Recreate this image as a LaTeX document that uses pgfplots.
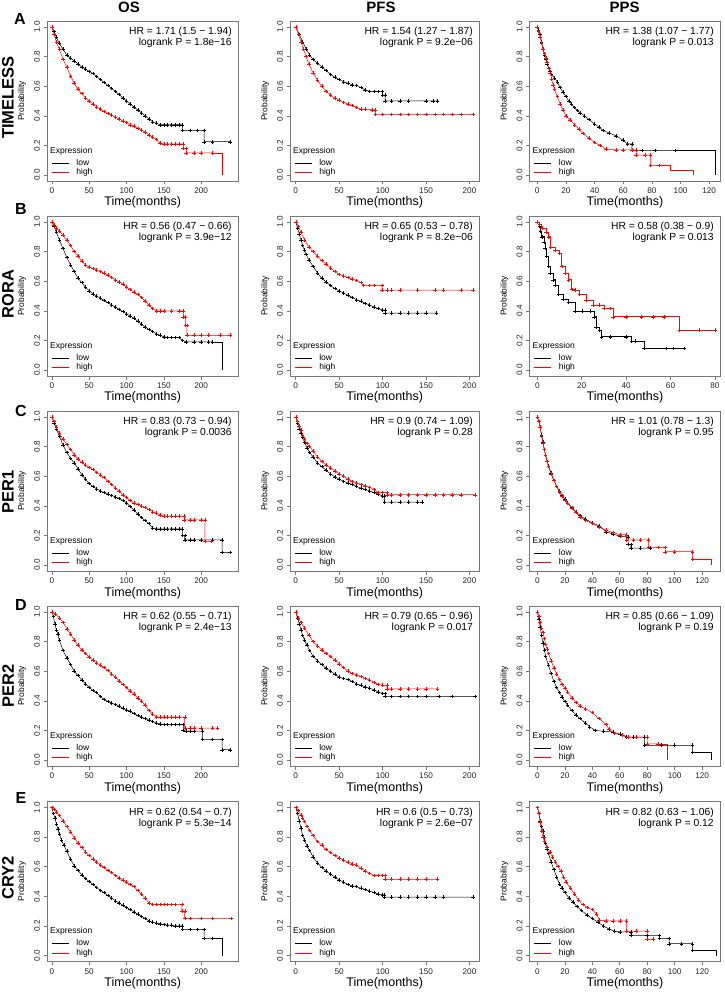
\documentclass[border=0pt]{standalone}
\usepackage{fontspec}
\setmainfont{Liberation Sans}
\usepackage{pgfplots}
\pgfplotsset{compat=1.18}
\definecolor{axgray}{RGB}{120,120,120}
\newcommand{\tickfont}{\fontsize{8.2}{9}\selectfont}
\newcommand{\legfont}{\fontsize{8.5}{9}\selectfont}
\newcommand{\hrfont}{\fontsize{10.3}{11}\selectfont}
\newcommand{\labfont}{\fontsize{12.5}{14}\selectfont}
\newcommand{\problabfont}{\fontsize{8.5}{9}\selectfont}
\tikzset{hrnode/.style={anchor=east,inner sep=0pt,font=\hrfont}}
\pgfplotsset{
  legend image code/.code={\draw[#1,line width=0.6pt] (0pt,0pt) -- (16.6pt,0pt);},
  km/.style={
    scale only axis, height=160pt,
    ymin=-0.04, ymax=1.04,
    ytick={0,0.2,0.4,0.6,0.8,1},
    axis line style={draw=axgray, line width=0.7pt},
    tick style={draw=axgray, line width=0.6pt},
    tick align=outside, major tick length=3.5pt,
    xtick pos=left, ytick pos=left,
    /pgf/number format/assume math mode=true,
    ticklabel style={font=\tickfont, text=black!85},
    yticklabel style={rotate=90, anchor=south, /pgf/number format/.cd, fixed, fixed zerofill, precision=1},
    xlabel={Time(months)}, ylabel={Probability},
    xlabel style={at={(axis description cs:0.5,-0.136)}, anchor=center, font=\labfont, inner sep=0pt},
    ylabel style={at={(axis description cs:-0.131,0.5)}, anchor=center, rotate=0, font=\problabfont, inner sep=0pt},
    clip=false,
    legend style={at={(axis description cs:0.0245,0.024)}, anchor=south west, draw=none, fill=none,
      font=\legfont, inner sep=0pt, outer sep=0pt, row sep=0.4pt, column sep=7pt,
      nodes={inner sep=0.5pt, text height=6.2pt, text depth=1.8pt}, cells={anchor=west}},
  },
  os/.style={km, width=191.5pt, xmin=-6.5, xmax=250, xtick={0,50,100,150,200}},
  pfs/.style={km, width=189.5pt, xmin=-6.6, xmax=211.5, xtick={0,50,100,150,200}},
  ppsA/.style={km, width=191pt, xmin=-5.4, xmax=127.9, xtick={0,20,40,60,80,100,120}},
  ppsB/.style={km, width=191pt, xmin=-3.5, xmax=82.5, xtick={0,20,40,60,80}},
  ppsC/.style={km, width=191pt, xmin=-5.8, xmax=133.4, xtick={0,20,40,60,80,100,120}},
  lowc/.style={black, line width=0.5pt, mark=+, mark size=1.8pt, mark options={line width=0.4pt, solid}, forget plot},
  highc/.style={red, line width=0.5pt, mark=+, mark size=1.8pt, mark options={line width=0.4pt, solid}, forget plot},
  lowe/.style={black, line width=0.5pt, no marks, forget plot},
  highe/.style={red, line width=0.5pt, no marks, forget plot},
}
\newcommand{\kmdeco}[2]{%
  \addlegendimage{black}\addlegendentry{low}%
  \addlegendimage{red}\addlegendentry{high}%
  \node[hrnode] at (axis description cs:0.9655,0.931) {#1};%
  \node[hrnode] at (axis description cs:0.9655,0.861) {#2};%
  \node[anchor=west,inner sep=0pt,font=\legfont] at (axis description cs:0.0157,0.1875) {Expression};%
}
\begin{document}
\begin{tikzpicture}[x=1pt,y=1pt]
\useasboundingbox (0,0) rectangle (724,-992);
% headers
\node[font=\bfseries\fontsize{15}{16}\selectfont] at (129,-7.5) {OS};
\node[font=\bfseries\fontsize{15}{16}\selectfont] at (381,-7.5) {PFS};
\node[font=\bfseries\fontsize{15}{16}\selectfont] at (624.7,-7.5) {PPS};
% row letters
\node[font=\bfseries\fontsize{16}{17}\selectfont] at (20,-18.5) {A};
\node[font=\bfseries\fontsize{16}{17}\selectfont] at (21,-208.5) {B};
\node[font=\bfseries\fontsize{16}{17}\selectfont] at (21,-411) {C};
\node[font=\bfseries\fontsize{16}{17}\selectfont] at (21,-605) {D};
\node[font=\bfseries\fontsize{16}{17}\selectfont] at (21,-797.5) {E};
% gene names
\node[rotate=90,font=\bfseries\fontsize{16.5}{18}\selectfont] at (8,-97.5) {TIMELESS};
\node[rotate=90,font=\bfseries\fontsize{16.5}{18}\selectfont] at (8,-294) {RORA};
\node[rotate=90,font=\bfseries\fontsize{16.5}{18}\selectfont] at (8,-492) {PER1};
\node[rotate=90,font=\bfseries\fontsize{16.5}{18}\selectfont] at (8,-686) {PER2};
\node[rotate=90,font=\bfseries\fontsize{16.5}{18}\selectfont] at (8,-878) {CRY2};

%================ ROW A =================
\begin{axis}[os, at={(47pt,-21pt)}, anchor=north west]
\addplot[lowc] coordinates {(0,1)(3,0.97)(6,0.93)(10,0.89)(15,0.85)(20,0.81)(25,0.79)(30,0.77)(35,0.75)(40,0.73)(45,0.715)(50,0.70)(55,0.685)(60,0.665)(65,0.645)(70,0.625)(75,0.605)(80,0.585)(85,0.565)(90,0.545)(95,0.52)(100,0.50)(105,0.48)(110,0.46)(115,0.44)(120,0.42)(125,0.40)(130,0.38)(135,0.36)(140,0.35)(145,0.34)(150,0.34)(155,0.34)(160,0.34)(165,0.34)(170,0.34)(175,0.34)(175,0.30)(185,0.30)(195,0.30)(204,0.30)(204,0.225)(215,0.225)(239,0.225)};
\addplot[highc] coordinates {(0,1)(3,0.95)(6,0.90)(10,0.85)(15,0.78)(20,0.73)(25,0.67)(30,0.62)(35,0.58)(40,0.55)(45,0.52)(50,0.50)(55,0.48)(60,0.46)(65,0.445)(70,0.43)(75,0.415)(80,0.405)(85,0.39)(90,0.38)(95,0.365)(100,0.355)(105,0.34)(110,0.33)(115,0.315)(120,0.305)(125,0.29)(130,0.27)(135,0.255)(140,0.24)(145,0.215)(150,0.21)(155,0.21)(160,0.21)(165,0.21)(170,0.21)(176,0.21)(176,0.18)(180,0.18)(180,0.15)(190,0.15)(200,0.15)(215,0.15)};
\addplot[highe] coordinates {(215,0.15)(228,0.15)(228,0)};
\kmdeco{HR = 1.71 (1.5 − 1.94)}{logrank P = 1.8e−16}
\end{axis}

\begin{axis}[pfs, at={(290pt,-21pt)}, anchor=north west]
\addplot[lowc] coordinates {(0,1)(4,0.95)(8,0.9)(12,0.85)(16,0.81)(20,0.78)(25,0.755)(30,0.73)(35,0.705)(40,0.68)(45,0.66)(50,0.645)(55,0.63)(60,0.62)(65,0.61)(70,0.605)(75,0.59)(80,0.575)(85,0.565)(90,0.565)(95,0.565)(100,0.565)(100,0.54)(103,0.54)(103,0.50)(110,0.50)(120,0.50)(130,0.50)(150,0.50)(158,0.50)(163,0.50)};
\addplot[highc] coordinates {(0,1)(3,0.95)(6,0.90)(9,0.85)(12,0.80)(15,0.75)(20,0.69)(25,0.64)(30,0.60)(35,0.565)(40,0.54)(45,0.52)(50,0.505)(55,0.49)(60,0.48)(65,0.47)(70,0.455)(75,0.445)(80,0.445)(88,0.44)(91,0.44)(92,0.41)(100,0.41)(110,0.41)(120,0.41)(130,0.41)(140,0.41)(150,0.41)(160,0.41)(170,0.41)(180,0.41)(190,0.41)(204,0.41)};
\kmdeco{HR = 1.54 (1.27 − 1.87)}{logrank P = 9.2e−06}
\end{axis}

\begin{axis}[ppsA, at={(529.5pt,-21pt)}, anchor=north west]
\addplot[lowc] coordinates {(0,1)(1,0.98)(2,0.95)(3,0.90)(4,0.85)(5,0.81)(6,0.78)(7,0.75)(8,0.72)(9,0.70)(10,0.68)(12,0.655)(14,0.63)(16,0.59)(18,0.56)(20,0.53)(22,0.50)(24,0.48)(26,0.455)(28,0.435)(30,0.42)(33,0.40)(36,0.375)(40,0.345)(43,0.325)(46,0.30)(50,0.285)(55,0.265)(60,0.235)(63,0.21)(66,0.21)(66,0.165)(73,0.165)(82,0.165)(96,0.165)};
\addplot[lowe] coordinates {(96,0.165)(124,0.165)(124,0)};
\addplot[highc] coordinates {(0,1)(1,0.97)(2,0.93)(3,0.89)(4,0.85)(5,0.82)(6,0.79)(7,0.76)(8,0.72)(9,0.69)(10,0.65)(11,0.61)(12,0.58)(14,0.53)(16,0.48)(18,0.44)(20,0.40)(23,0.37)(26,0.34)(29,0.31)(32,0.28)(36,0.25)(40,0.22)(44,0.20)(48,0.175)(55,0.17)(60,0.17)(66,0.17)(69,0.17)(69,0.135)(75,0.135)(79,0.135)(79,0.065)(85,0.065)};
\addplot[highe] coordinates {(85,0.065)(92.6,0.065)(92.6,0.03)(109,0.03)(109,0)};
\kmdeco{HR = 1.38 (1.07 − 1.77)}{logrank P = 0.013}
\end{axis}

%================ ROW B =================
\begin{axis}[os, at={(47pt,-216pt)}, anchor=north west]
\addplot[lowc] coordinates {(0,1)(3,0.97)(6,0.93)(10,0.88)(15,0.82)(20,0.76)(25,0.71)(30,0.665)(35,0.62)(40,0.59)(45,0.56)(50,0.535)(55,0.515)(60,0.50)(65,0.485)(70,0.47)(75,0.455)(80,0.44)(85,0.425)(90,0.41)(95,0.395)(100,0.38)(105,0.365)(110,0.35)(115,0.33)(120,0.31)(125,0.29)(130,0.275)(135,0.26)(140,0.245)(145,0.235)(150,0.225)(155,0.22)(160,0.22)(165,0.22)(170,0.22)(175,0.20)(180,0.19)(190,0.19)(200,0.19)(210,0.19)(215,0.19)};
\addplot[lowe] coordinates {(215,0.19)(228,0.19)(228,0)};
\addplot[highc] coordinates {(0,1)(3,0.98)(6,0.96)(10,0.94)(15,0.91)(20,0.88)(25,0.84)(30,0.80)(35,0.77)(40,0.735)(45,0.71)(50,0.695)(55,0.685)(60,0.675)(65,0.665)(70,0.655)(75,0.64)(80,0.625)(85,0.61)(90,0.595)(95,0.58)(100,0.56)(105,0.545)(110,0.525)(115,0.51)(120,0.49)(125,0.465)(130,0.44)(135,0.415)(140,0.40)(145,0.40)(150,0.40)(160,0.40)(170,0.40)(176,0.40)(176,0.36)(179,0.36)(179,0.30)(181,0.30)(181,0.235)(190,0.235)(200,0.235)(210,0.235)(225,0.235)(239,0.235)};
\kmdeco{HR = 0.56 (0.47 − 0.66)}{logrank P = 3.9e−12}
\end{axis}

\begin{axis}[pfs, at={(290pt,-216pt)}, anchor=north west]
\addplot[lowc] coordinates {(0,1)(2,0.96)(4,0.92)(6,0.88)(8,0.84)(10,0.81)(12,0.78)(15,0.745)(20,0.70)(25,0.655)(30,0.62)(35,0.595)(40,0.57)(45,0.55)(50,0.535)(55,0.52)(60,0.505)(65,0.49)(70,0.475)(75,0.465)(80,0.45)(85,0.44)(90,0.425)(95,0.415)(100,0.405)(103,0.405)(103,0.385)(110,0.385)(120,0.385)(130,0.385)(140,0.385)(150,0.385)(162,0.385)};
\addplot[highc] coordinates {(0,1)(3,0.97)(6,0.93)(10,0.88)(15,0.83)(20,0.80)(25,0.77)(30,0.74)(35,0.715)(40,0.69)(45,0.665)(50,0.645)(55,0.635)(60,0.625)(65,0.615)(70,0.605)(75,0.59)(78,0.57)(85,0.57)(90,0.57)(99,0.57)(99,0.54)(105,0.54)(110,0.54)(120,0.54)(140,0.54)(160,0.54)(170,0.54)(190,0.54)(204,0.54)};
\kmdeco{HR = 0.65 (0.53 − 0.78)}{logrank P = 8.2e−06}
\end{axis}

\begin{axis}[ppsB, at={(529.5pt,-216pt)}, anchor=north west]
\addplot[lowc, const plot] coordinates {(0,1)(1,0.97)(1.5,0.94)(2,0.90)(3,0.86)(3.5,0.82)(4.2,0.77)(5,0.70)(5.7,0.655)(7,0.61)(8,0.57)(9.5,0.51)(11.5,0.48)(14,0.455)(17,0.40)(20,0.40)(24,0.40)(25.5,0.36)(26.5,0.29)(28,0.27)(29,0.225)(33,0.225)(40,0.225)(42.5,0.195)(44,0.195)(48,0.145)(58,0.145)(61,0.145)(66,0.145)};
\addplot[highc, const plot] coordinates {(0,1)(1,0.985)(2,0.96)(4,0.93)(5,0.90)(6,0.83)(8,0.81)(10,0.79)(11,0.70)(12.5,0.655)(14,0.61)(15.5,0.545)(17,0.54)(19,0.51)(22,0.47)(25,0.44)(28,0.44)(30,0.415)(33,0.415)(34,0.36)(40,0.36)(47,0.36)(52,0.36)(57,0.36)(64,0.27)(73,0.27)(80,0.27)};
\kmdeco{HR = 0.58 (0.38 − 0.9)}{logrank P = 0.013}
\end{axis}

%================ ROW C =================
\begin{axis}[os, at={(47pt,-411pt)}, anchor=north west]
\addplot[lowc] coordinates {(0,1)(3,0.96)(6,0.92)(10,0.87)(15,0.81)(20,0.76)(25,0.72)(30,0.69)(35,0.65)(40,0.61)(45,0.58)(50,0.55)(55,0.53)(60,0.515)(65,0.50)(70,0.49)(75,0.48)(80,0.47)(85,0.46)(90,0.45)(95,0.435)(100,0.42)(105,0.395)(110,0.37)(115,0.345)(120,0.32)(125,0.30)(130,0.28)(135,0.25)(140,0.245)(145,0.245)(150,0.245)(155,0.245)(160,0.245)(165,0.245)(170,0.245)(175,0.245)(175,0.20)(178,0.20)(178,0.17)(185,0.17)(190,0.17)(200,0.17)(215,0.17)(228,0.17)(228,0.085)(239,0.085)};
\addplot[highc] coordinates {(0,1)(3,0.97)(6,0.93)(10,0.89)(15,0.85)(20,0.815)(25,0.78)(30,0.745)(35,0.715)(40,0.695)(45,0.675)(50,0.66)(55,0.645)(60,0.625)(65,0.61)(70,0.59)(75,0.565)(80,0.545)(85,0.52)(90,0.50)(95,0.475)(100,0.455)(105,0.435)(110,0.42)(115,0.41)(120,0.40)(125,0.39)(130,0.375)(135,0.36)(140,0.35)(145,0.34)(150,0.33)(155,0.33)(160,0.33)(165,0.33)(170,0.33)(177,0.33)(177,0.305)(185,0.305)(190,0.305)(200,0.305)(205,0.305)(205,0.16)(214,0.16)};
\kmdeco{HR = 0.83 (0.73 − 0.94)}{logrank P = 0.0036}
\end{axis}

\begin{axis}[pfs, at={(290pt,-411pt)}, anchor=north west]
\addplot[lowc] coordinates {(0,1)(2,0.96)(4,0.92)(6,0.89)(8,0.86)(10,0.83)(13,0.79)(16,0.76)(20,0.73)(25,0.69)(30,0.665)(35,0.64)(40,0.615)(45,0.595)(50,0.58)(55,0.565)(60,0.555)(65,0.545)(70,0.53)(75,0.52)(80,0.51)(85,0.50)(90,0.49)(95,0.48)(100,0.465)(102,0.465)(102,0.425)(110,0.425)(120,0.425)(130,0.425)(140,0.425)(145,0.425)};
\addplot[highc] coordinates {(0,1)(2,0.97)(4,0.94)(6,0.91)(8,0.88)(10,0.85)(13,0.82)(16,0.80)(20,0.77)(25,0.73)(30,0.70)(35,0.675)(40,0.655)(45,0.635)(50,0.615)(55,0.60)(60,0.58)(65,0.565)(70,0.555)(75,0.545)(80,0.535)(85,0.525)(90,0.51)(95,0.49)(100,0.49)(105,0.49)(105,0.475)(110,0.475)(120,0.475)(130,0.475)(140,0.475)(150,0.475)(160,0.475)(170,0.475)(180,0.475)(190,0.475)(206,0.475)};
\kmdeco{HR = 0.9 (0.74 − 1.09)}{logrank P = 0.28}
\end{axis}

\begin{axis}[ppsC, at={(529.5pt,-411pt)}, anchor=north west]
\addplot[lowc] coordinates {(0,1)(1,0.97)(2,0.93)(3,0.88)(4,0.83)(5,0.78)(6,0.74)(7,0.70)(8,0.67)(10,0.62)(12,0.57)(14,0.53)(16,0.50)(18,0.47)(20,0.445)(22,0.42)(25,0.39)(28,0.36)(31,0.335)(35,0.31)(40,0.285)(45,0.265)(50,0.225)(55,0.21)(60,0.195)(66,0.19)(66,0.14)(68,0.14)(68,0.115)(75,0.115)(82,0.115)};
\addplot[highc] coordinates {(0,1)(1,0.97)(2,0.93)(3,0.87)(4,0.82)(5,0.78)(6,0.74)(7,0.70)(8,0.665)(10,0.615)(12,0.57)(14,0.53)(16,0.495)(18,0.465)(20,0.44)(22,0.415)(25,0.385)(28,0.355)(31,0.325)(35,0.30)(40,0.28)(45,0.255)(50,0.235)(55,0.22)(60,0.205)(65,0.205)(65,0.17)(70,0.17)(75,0.17)(81,0.17)(81,0.12)(88,0.12)(93,0.12)(93,0.09)(100,0.09)(113,0.09)(113,0.04)};
\addplot[highe] coordinates {(113,0.04)(127,0.04)(127,0)};
\kmdeco{HR = 1.01 (0.78 − 1.3)}{logrank P = 0.95}
\end{axis}

%================ ROW D =================
\begin{axis}[os, at={(47pt,-606pt)}, anchor=north west]
\addplot[lowc] coordinates {(0,1)(2,0.97)(4,0.92)(6,0.88)(8,0.85)(10,0.81)(15,0.74)(20,0.69)(25,0.645)(30,0.60)(35,0.57)(40,0.54)(45,0.515)(50,0.49)(55,0.47)(60,0.455)(65,0.43)(70,0.41)(75,0.395)(80,0.385)(85,0.375)(90,0.365)(95,0.35)(100,0.34)(105,0.33)(110,0.315)(115,0.30)(120,0.29)(125,0.28)(130,0.27)(135,0.26)(140,0.25)(145,0.245)(150,0.24)(155,0.24)(160,0.24)(165,0.24)(170,0.24)(176,0.24)(176,0.20)(180,0.195)(185,0.195)(190,0.195)(202,0.195)(202,0.14)(215,0.14)(228,0.14)(228,0.07)(239,0.07)};
\addplot[highc] coordinates {(0,1)(5,0.985)(10,0.96)(15,0.93)(20,0.885)(25,0.85)(30,0.81)(35,0.775)(40,0.745)(45,0.72)(50,0.695)(55,0.675)(60,0.655)(65,0.64)(70,0.625)(75,0.605)(80,0.58)(85,0.56)(90,0.535)(95,0.51)(100,0.49)(105,0.465)(110,0.445)(115,0.42)(120,0.40)(125,0.37)(130,0.335)(135,0.31)(140,0.29)(145,0.29)(150,0.29)(155,0.29)(160,0.29)(165,0.29)(170,0.29)(178,0.29)(178,0.215)(185,0.215)(190,0.215)(200,0.215)(215,0.215)(222,0.215)};
\kmdeco{HR = 0.62 (0.55 − 0.71)}{logrank P = 2.4e−13}
\end{axis}

\begin{axis}[pfs, at={(290pt,-606pt)}, anchor=north west]
\addplot[lowc] coordinates {(0,1)(2,0.96)(4,0.92)(6,0.88)(8,0.84)(10,0.81)(13,0.775)(16,0.74)(20,0.70)(25,0.67)(30,0.645)(35,0.62)(40,0.60)(45,0.58)(50,0.56)(55,0.55)(60,0.545)(65,0.53)(70,0.515)(75,0.505)(80,0.495)(85,0.485)(90,0.475)(95,0.46)(100,0.45)(103,0.45)(103,0.43)(110,0.43)(120,0.43)(130,0.43)(140,0.43)(150,0.43)(165,0.43)(180,0.43)(206,0.43)};
\addplot[highc] coordinates {(0,1)(3,0.96)(6,0.93)(10,0.89)(15,0.845)(20,0.80)(25,0.77)(30,0.745)(35,0.72)(40,0.70)(45,0.675)(50,0.65)(55,0.625)(60,0.60)(65,0.585)(70,0.575)(75,0.565)(80,0.55)(85,0.54)(90,0.525)(95,0.51)(100,0.505)(105,0.505)(105,0.48)(110,0.48)(120,0.48)(130,0.48)(140,0.48)(150,0.48)(163,0.48)};
\kmdeco{HR = 0.79 (0.65 − 0.96)}{logrank P = 0.017}
\end{axis}

\begin{axis}[ppsC, at={(529.5pt,-606pt)}, anchor=north west]
\addplot[lowc] coordinates {(0,1)(1,0.95)(2,0.90)(3,0.84)(4,0.79)(5,0.745)(6,0.70)(8,0.64)(10,0.585)(12,0.53)(14,0.49)(16,0.455)(18,0.425)(20,0.395)(22,0.37)(25,0.335)(28,0.305)(31,0.28)(35,0.25)(38,0.225)(42,0.20)(48,0.195)(55,0.19)(60,0.175)(65,0.155)(70,0.155)(78,0.155)(78,0.10)(90,0.10)(100,0.10)(113,0.10)(113,0.05)};
\addplot[lowe] coordinates {(113,0.05)(127,0.05)(127,0)};
\addplot[highc] coordinates {(0,1)(1,0.97)(2,0.93)(3,0.89)(4,0.86)(5,0.82)(6,0.78)(7,0.75)(8,0.72)(10,0.67)(12,0.62)(14,0.58)(16,0.545)(18,0.51)(20,0.485)(22,0.46)(25,0.42)(28,0.39)(31,0.365)(35,0.345)(40,0.32)(45,0.28)(50,0.24)(52,0.21)(56,0.18)(62,0.17)(66,0.155)(72,0.155)(80,0.155)(80,0.11)(88,0.11)};
\addplot[highe] coordinates {(88,0.11)(94.7,0.11)(94.7,0)};
\kmdeco{HR = 0.85 (0.66 − 1.09)}{logrank P = 0.19}
\end{axis}

%================ ROW E =================
\begin{axis}[os, at={(47pt,-801.5pt)}, anchor=north west]
\addplot[lowc] coordinates {(0,1)(2,0.96)(4,0.93)(6,0.89)(8,0.855)(10,0.82)(13,0.78)(16,0.745)(20,0.705)(25,0.65)(30,0.605)(35,0.575)(40,0.545)(45,0.52)(50,0.50)(55,0.48)(60,0.46)(65,0.44)(70,0.425)(75,0.405)(80,0.39)(85,0.37)(90,0.355)(95,0.34)(100,0.325)(105,0.31)(110,0.295)(115,0.28)(120,0.265)(125,0.25)(130,0.235)(135,0.225)(140,0.22)(145,0.215)(150,0.21)(155,0.205)(160,0.205)(165,0.20)(170,0.20)(175,0.20)(175,0.175)(185,0.175)(195,0.175)(204,0.175)(204,0.115)(215,0.115)};
\addplot[lowe] coordinates {(215,0.115)(228,0.115)(228,0)};
\addplot[highc] coordinates {(0,1)(3,0.985)(6,0.97)(10,0.945)(15,0.91)(20,0.87)(25,0.835)(30,0.795)(35,0.76)(40,0.73)(45,0.70)(50,0.675)(55,0.65)(60,0.63)(65,0.61)(70,0.595)(75,0.575)(80,0.56)(85,0.54)(90,0.525)(95,0.51)(100,0.495)(105,0.48)(110,0.465)(115,0.44)(120,0.415)(125,0.39)(130,0.355)(135,0.345)(140,0.345)(145,0.345)(150,0.345)(155,0.345)(160,0.345)(165,0.345)(174,0.345)(174,0.30)(178,0.30)(178,0.25)(185,0.25)(200,0.25)(215,0.25)(240,0.25)};
\kmdeco{HR = 0.62 (0.54 − 0.7)}{logrank P = 5.3e−14}
\end{axis}

\begin{axis}[pfs, at={(290pt,-801.5pt)}, anchor=north west]
\addplot[lowc] coordinates {(0,1)(2,0.96)(4,0.91)(6,0.86)(8,0.81)(10,0.78)(13,0.74)(16,0.71)(20,0.665)(25,0.625)(30,0.595)(35,0.57)(40,0.55)(45,0.53)(50,0.51)(55,0.495)(60,0.48)(65,0.47)(70,0.465)(75,0.455)(80,0.445)(85,0.435)(90,0.425)(95,0.415)(100,0.41)(102,0.41)(102,0.395)(110,0.395)(120,0.395)(130,0.395)(140,0.395)(150,0.395)(160,0.395)(170,0.395)(204,0.395)};
\addplot[highc] coordinates {(0,1)(3,0.98)(6,0.95)(8,0.93)(10,0.905)(13,0.87)(16,0.845)(20,0.81)(25,0.77)(30,0.745)(35,0.715)(40,0.695)(45,0.675)(50,0.66)(55,0.645)(60,0.63)(65,0.62)(70,0.61)(75,0.59)(80,0.57)(85,0.555)(90,0.54)(95,0.54)(100,0.54)(103,0.54)(103,0.515)(110,0.515)(120,0.515)(130,0.515)(140,0.515)(150,0.515)(163,0.515)};
\kmdeco{HR = 0.6 (0.5 − 0.73)}{logrank P = 2.6e−07}
\end{axis}

\begin{axis}[ppsC, at={(529.5pt,-801.5pt)}, anchor=north west]
\addplot[lowc] coordinates {(0,1)(1,0.96)(2,0.91)(3,0.87)(4,0.84)(5,0.80)(6,0.76)(7,0.72)(8,0.69)(10,0.63)(12,0.58)(14,0.53)(16,0.485)(18,0.455)(20,0.425)(23,0.39)(26,0.36)(29,0.33)(32,0.305)(36,0.275)(40,0.25)(44,0.225)(48,0.20)(52,0.18)(56,0.165)(60,0.16)(68,0.16)(68,0.135)(80,0.135)(89,0.135)(89,0.115)(96,0.115)(96,0.08)(105,0.08)(113,0.08)(113,0.035)};
\addplot[lowe] coordinates {(113,0.035)(130,0.035)(130,0)};
\addplot[highc] coordinates {(0,1)(1,0.96)(2,0.90)(3,0.84)(4,0.80)(5,0.775)(7,0.73)(9,0.70)(11,0.665)(13,0.63)(15,0.60)(17,0.57)(19,0.53)(21,0.495)(24,0.455)(27,0.415)(30,0.375)(33,0.345)(36,0.325)(40,0.31)(43,0.28)(45,0.24)(50,0.235)(55,0.235)(60,0.235)(65,0.235)(65,0.165)(72,0.165)(80,0.165)(80,0.11)(84,0.11)};
\kmdeco{HR = 0.82 (0.63 − 1.06)}{logrank P = 0.12}
\end{axis}
\end{tikzpicture}
\end{document}
